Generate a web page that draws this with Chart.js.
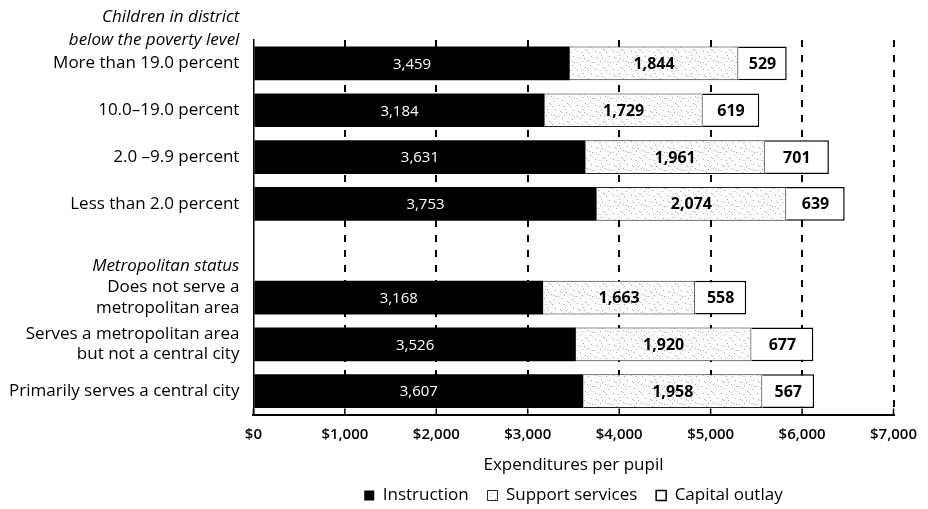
<!DOCTYPE html>
<html lang="en">
<head>
  <meta charset="UTF-8">
  <title>Expenditures per pupil</title>
  <script src="https://cdn.jsdelivr.net/npm/chart.js@4.4.1/dist/chart.umd.min.js"></script>
  <style>
    * { box-sizing: border-box; margin: 0; padding: 0; }
    html, body { width: 928px; height: 509px; overflow: hidden; background: #fff; }
    .chart-container { position: relative; width: 928px; height: 509px; }
  </style>
</head>
<body>
  <div class="chart-container">
    <canvas id="chart"></canvas>
  </div>

  <script>
    // Categories (index 4 is the empty gap row before the second group)
    const categories = [
      'More than 19.0 percent',
      '10.0\u201319.0 percent',
      '2.0 \u20139.9 percent',
      'Less than 2.0 percent',
      '',
      ['Does not serve a', 'metropolitan area'],
      ['Serves a metropolitan area', 'but not a central city'],
      'Primarily serves a central city'
    ];
    const instruction = [3459, 3184, 3631, 3753, null, 3168, 3526, 3607];
    const support     = [1844, 1729, 1961, 2074, null, 1663, 1920, 1958];
    const capital     = [529, 619, 701, 639, null, 558, 677, 567];
    const xTicks = [0, 1000, 2000, 3000, 4000, 5000, 6000, 7000];
    const groupHeaders = [
      { row: 0, lines: ['Children in district', 'below the poverty level'] },
      { row: 4, lines: ['Metropolitan status'] }
    ];

    const FONT = "'Open Sans', 'Noto Sans', sans-serif";

    // Speckled fill for support services
    function speckle() {
      const c = document.createElement('canvas');
      c.width = 18; c.height = 18;
      const g = c.getContext('2d');
      g.fillStyle = '#fbfbfb';
      g.fillRect(0, 0, 18, 18);
      g.fillStyle = '#a8a8a8';
      [[2,3],[7,1],[11,6],[15,2],[4,10],[9,13],[14,11],[1,15],[6,7],[12,16],[16,8],[8,4]].forEach(p => g.fillRect(p[0], p[1], 1, 1));
      g.fillStyle = '#d0d0d0';
      [[3,4],[10,14],[13,7],[5,16],[17,13],[0,8]].forEach(p => g.fillRect(p[0], p[1], 2, 1));
      return g.createPattern(c, 'repeat');
    }
    const supportFill = speckle();

    // Value labels inside each segment
    const valueLabels = {
      id: 'valueLabels',
      afterDatasetsDraw(chart) {
        const ctx = chart.ctx;
        ctx.save();
        ctx.textAlign = 'center';
        ctx.textBaseline = 'middle';
        chart.data.datasets.forEach((ds, di) => {
          const meta = chart.getDatasetMeta(di);
          meta.data.forEach((el, i) => {
            const v = ds.data[i];
            if (v === null || v === undefined) return;
            const p = el.getCenterPoint();
            ctx.fillStyle = di === 0 ? '#fff' : '#000';
            ctx.font = di === 0 ? '400 15px ' + FONT : '700 16px ' + FONT;
            ctx.fillText(v.toLocaleString('en-US'), p.x, p.y + 1);
          });
        });
        ctx.restore();
      }
    };

    // Short solid ticks pointing up from the x axis
    const innerTicks = {
      id: 'innerTicks',
      afterDatasetsDraw(chart) {
        const ctx = chart.ctx;
        const x = chart.scales.x;
        const bottom = chart.chartArea.bottom;
        ctx.save();
        ctx.strokeStyle = '#000';
        ctx.lineWidth = 1.5;
        ctx.beginPath();
        xTicks.forEach(v => {
          const px = x.getPixelForValue(v);
          ctx.moveTo(px, bottom);
          ctx.lineTo(px, bottom - 6);
        });
        ctx.stroke();
        ctx.restore();
      }
    };

    // Italic group headers left of the axis
    const headers = {
      id: 'headers',
      afterDraw(chart) {
        const ctx = chart.ctx;
        const y = chart.scales.y;
        const x = chart.chartArea.left - 14;
        const step = y.getPixelForValue(1) - y.getPixelForValue(0);
        ctx.save();
        ctx.font = 'italic 400 17px ' + FONT;
        ctx.fillStyle = '#000';
        ctx.textAlign = 'right';
        ctx.textBaseline = 'middle';
        groupHeaders.forEach(h => {
          if (h.row === 0) {
            const top = y.getPixelForValue(0) - step / 2;
            ctx.fillText(h.lines[0], x, top - 23);
            ctx.fillText(h.lines[1], x, top);
          } else {
            ctx.fillText(h.lines[0], x, y.getPixelForValue(h.row) + 15);
          }
        });
        ctx.restore();
      }
    };

    new Chart(document.getElementById('chart'), {
      type: 'bar',
      data: {
        labels: categories,
        datasets: [
          {
            label: 'Instruction',
            data: instruction,
            backgroundColor: '#000',
            borderColor: '#000',
            borderWidth: 0
          },
          {
            label: 'Support services',
            data: support,
            backgroundColor: supportFill,
            borderColor: '#222',
            borderWidth: 1
          },
          {
            label: 'Capital outlay',
            data: capital,
            backgroundColor: '#fff',
            borderColor: '#000',
            borderWidth: 1.5
          }
        ]
      },
      options: {
        indexAxis: 'y',
        responsive: true,
        maintainAspectRatio: false,
        animation: false,
        layout: { padding: { top: 40, right: 34, left: 0, bottom: 0 } },
        datasets: { bar: { barPercentage: 0.72, categoryPercentage: 1 } },
        plugins: {
          tooltip: { enabled: false },
          legend: {
            position: 'bottom',
            fullSize: false,
            maxHeight: 32,
            labels: {
              color: '#000',
              font: { family: FONT, size: 17 },
              boxWidth: 10,
              boxHeight: 10,
              padding: 10,
              generateLabels: chart => {
                const items = Chart.defaults.plugins.legend.labels.generateLabels(chart);
                items.forEach((it, i) => { if (i < items.length - 1) it.text += '  '; });
                return items;
              }
            }
          }
        },
        scales: {
          x: {
            stacked: true,
            min: 0,
            max: 7000,
            afterBuildTicks: axis => { axis.ticks = xTicks.map(v => ({ value: v })); },
            ticks: {
              color: '#000',
              font: { family: FONT, size: 15, weight: '600' },
              padding: 11,
              callback: v => '$' + v.toLocaleString('en-US')
            },
            grid: {
              color: ctx => ctx.index === 0 ? 'rgba(0,0,0,0)' : '#000',
              lineWidth: 2,
              tickLength: 0,
              drawTicks: false
            },
            border: { display: true, color: '#000', width: 2, dash: [7, 8] },
            title: {
              display: true,
              text: 'Expenditures per pupil',
              color: '#000',
              font: { family: FONT, size: 17 },
              padding: { top: 0, bottom: 2 }
            }
          },
          y: {
            stacked: true,
            afterFit: axis => { axis.width -= 5; },
            ticks: {
              color: '#000',
              font: { family: FONT, size: 17 },
              padding: 14,
              autoSkip: false
            },
            grid: { display: false, drawTicks: false },
            border: { display: true, color: '#000', width: 1.5 }
          }
        }
      },
      plugins: [valueLabels, innerTicks, headers]
    });
  </script>
</body>
</html>
